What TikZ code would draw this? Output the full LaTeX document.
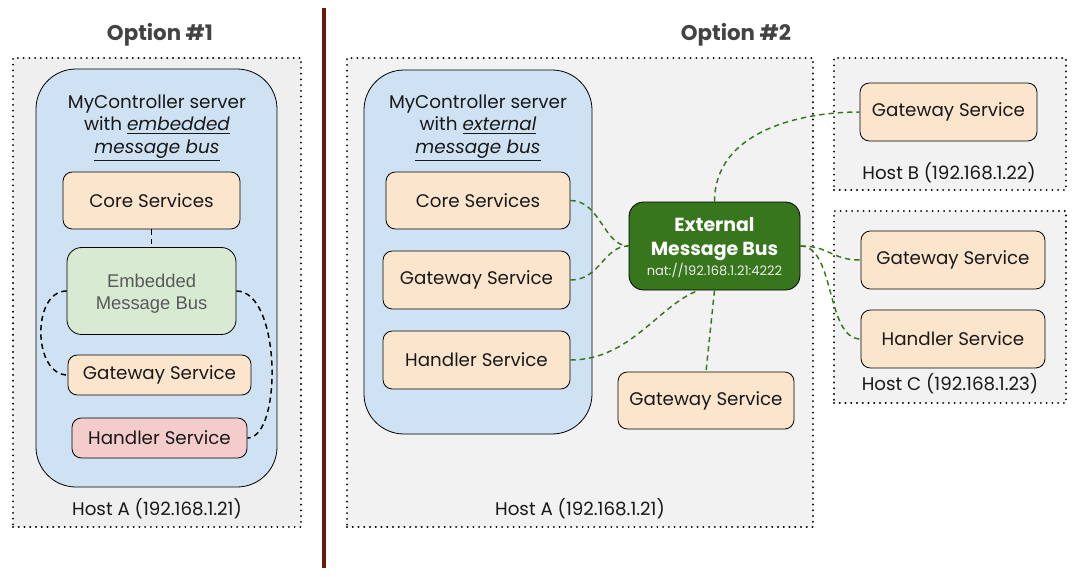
\documentclass[tikz,border=0pt]{standalone}
\usepackage{fontspec}
\setmainfont{Poppins}
\newfontfamily\embfont{Liberation Sans}
\usetikzlibrary{calc}
\definecolor{hostfill}{HTML}{F2F2F2}
\definecolor{hostfillL}{HTML}{EFEFEF}
\definecolor{srvfill}{HTML}{CFE2F3}
\definecolor{svcfill}{HTML}{FCE5CD}
\definecolor{embfill}{HTML}{D9EAD3}
\definecolor{hdfill}{HTML}{F4CCCC}
\definecolor{busfill}{HTML}{38761D}
\definecolor{titlegrey}{HTML}{434343}
\definecolor{sepred}{HTML}{6B1A0E}
\definecolor{embgrey}{HTML}{595959}
\tikzset{
  hostbox/.style={draw=black, line width=1.6pt, dash pattern=on 0.01pt off 4.3pt, line cap=round, inner sep=0pt},
  srvbox/.style={draw=black, line width=0.6pt, fill=srvfill, rounded corners=30pt, inner sep=0pt},
  svc/.style={draw=black, line width=0.6pt, fill=svcfill, rounded corners=7pt, inner sep=0pt, font=\fontsize{13.7}{16}\selectfont, text=black!90},
  txt/.style={inner sep=0pt, font=\fontsize{13.7}{16}\selectfont, text=black!90},
  ttl/.style={inner sep=0pt, font=\fontsize{16}{19}\selectfont\bfseries, text=titlegrey},
  kconn/.style={draw=black, line width=1.1pt, dash pattern=on 4pt off 3pt},
  gconn/.style={draw=busfill, line width=1.1pt, dash pattern=on 4pt off 3pt},
}
\begin{document}
\begin{tikzpicture}[x=0.75pt,y=-0.75pt]
\useasboundingbox (0,0) rectangle (1086,576);
\fill[white] (0,0) rectangle (1086,576);

% titles and separator
\node[ttl] (t1) at (160,35) {Option \#1};
\node[ttl] (t2) at (736,35) {Option \#2};
\coordinate (sepTop) at (324,8);
\coordinate (sepBot) at (324,568);
\draw[sepred, line width=2.3pt] (sepTop) -- (sepBot);

% ---------- Option 1 ----------
\node[hostbox, fill=hostfillL, minimum width=216pt, minimum height=351.75pt] (hostA1) at (157,292.5) {};
\node[srvbox, minimum width=180.75pt, minimum height=313.5pt] (srv1) at (156.5,278) {};
\node[txt, align=center, font=\fontsize{13.8}{17}\selectfont] (srv1t) at (157,128) {MyController server\\with \underline{\textit{embedded}}\\\underline{\textit{message bus}}};
\node[svc, minimum width=132.75pt, minimum height=42.75pt] (core1) at (151.5,200.5) {Core Services};
\node[svc, fill=embfill, rounded corners=11pt, minimum width=126.75pt, minimum height=65.25pt, align=center, font=\embfont\fontsize{13.8}{16}\selectfont, text=embgrey] (emb) at (151.5,291) {\\[-2pt]Embedded\\Message Bus};
\node[svc, minimum width=137.25pt, minimum height=30pt] (gw1) at (159.5,375) {Gateway Service};
\node[svc, fill=hdfill, minimum width=131.25pt, minimum height=30pt] (hd1) at (159.5,438) {Handler Service};
\node[txt] (hA1) at (157,509) {Host A (192.168.1.21)};

\draw[kconn] (core1.south) -- (emb.north);
\draw[kconn] (emb.west) .. controls +(-35,0) and +(-35,0) .. (gw1.west);
\draw[kconn] (emb.east) .. controls +(45,0) and +(35,0) .. (hd1.east);

% ---------- Option 2 ----------
\node[hostbox, fill=hostfill, minimum width=349.5pt, minimum height=351.75pt] (hostA2) at (580,292.5) {};
\node[hostbox, fill=hostfill, minimum width=174pt, minimum height=99pt] (hostB) at (950,124) {};
\node[hostbox, fill=hostfill, minimum width=174pt, minimum height=144pt] (hostC) at (950,307) {};

\node[srvbox, minimum width=171pt, minimum height=273pt] (srv2) at (478,252) {};
\node[txt, align=center, font=\fontsize{13.8}{17}\selectfont] (srv2t) at (478,128) {MyController server\\with \underline{\textit{external}}\\\underline{\textit{message bus}}};
\node[svc, minimum width=138pt, minimum height=42.75pt] (core2) at (478,200.5) {Core Services};
\node[svc, minimum width=140.25pt, minimum height=43.5pt] (gw2) at (476.5,280) {Gateway Service};
\node[svc, minimum width=140.25pt, minimum height=43.5pt] (hd2) at (476.5,360) {Handler Service};
\node[svc, fill=busfill, rounded corners=11pt, minimum width=128.25pt, minimum height=66pt, align=center, text=white] (bus) at (714.5,246) {};
\node[inner sep=0pt, text=white, align=center, font=\fontsize{14.2}{17.5}\selectfont\bfseries] (busT) at (714.5,239) {External\\Message Bus};
\node[inner sep=0pt, text=white!92!black, font=\fontsize{9.8}{11}\selectfont] (busA) at (714.5,270) {nat://192.168.1.21:4222};
\node[svc, minimum width=132pt, minimum height=42.75pt] (gw3) at (706,400.5) {Gateway Service};
\node[txt] (hA2) at (580,509) {Host A (192.168.1.21)};

\node[svc, minimum width=132.75pt, minimum height=43.5pt] (gwB) at (948.5,112) {Gateway Service};
\node[txt] (hB) at (949,173) {Host B (192.168.1.22)};
\node[svc, minimum width=138pt, minimum height=43.5pt] (gwC) at (953,260) {Gateway Service};
\node[svc, minimum width=138pt, minimum height=43.5pt] (hdC) at (953,339) {Handler Service};
\node[txt] (hC) at (950,384) {Host C (192.168.1.23)};

\draw[gconn] (core2.east) .. controls +(30,0) and +(-25,0) .. (bus.west);
\draw[gconn] (gw2.east) .. controls +(30,0) and +(-25,0) .. (bus.west);
\draw[gconn] (hd2.east) .. controls +(60,0) and +(-40,15) .. (bus.250);
\draw[gconn] (bus.north) .. controls +(0,-70) and +(-60,0) .. (gwB.west);
\draw[gconn] (bus.south) -- (gw3.north);
\draw[gconn] (bus.east) .. controls +(30,0) and +(-30,0) .. (gwC.west);
\draw[gconn] (bus.east) .. controls +(35,0) and +(-35,0) .. (hdC.west);
\end{tikzpicture}
\end{document}
